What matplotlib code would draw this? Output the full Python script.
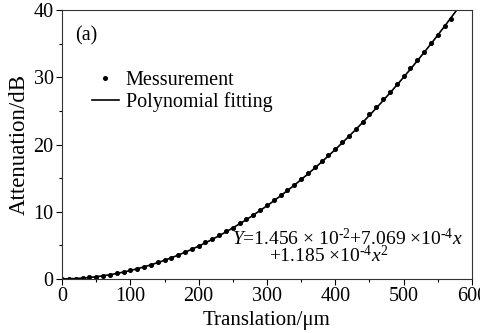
import numpy as np
import matplotlib
matplotlib.use("Agg")
import matplotlib.pyplot as plt
from matplotlib.ticker import MultipleLocator

plt.rcParams['font.family'] = ['Liberation Serif', 'DejaVu Serif']
plt.rcParams['mathtext.fontset'] = 'custom'
plt.rcParams['mathtext.rm'] = 'Liberation Serif'
plt.rcParams['mathtext.it'] = 'Liberation Serif:italic'
plt.rcParams['mathtext.bf'] = 'Liberation Serif:bold'

# Measured data (translation in um, attenuation in dB)
translation = [0, 10, 20, 30, 40, 50, 60, 70, 80, 90, 100, 110, 120, 130, 140, 150,
               160, 170, 180, 190, 200, 210, 220, 230, 240, 250, 260, 270, 280, 290,
               300, 310, 320, 330, 340, 350, 360, 370, 380, 390, 400, 410, 420, 430,
               440, 450, 460, 470, 480, 490, 500, 510, 520, 530, 540, 550, 560, 570]
attenuation = [0.01, 0.03, 0.08, 0.15, 0.24, 0.36, 0.50, 0.66, 0.85, 1.06, 1.30, 1.55,
               1.83, 2.14, 2.47, 2.82, 3.20, 3.60, 4.02, 4.47, 4.94, 5.44, 5.96, 6.50,
               7.07, 7.66, 8.28, 8.91, 9.58, 10.27, 10.97, 11.70, 12.46, 13.23, 14.03,
               14.86, 15.71, 16.59, 17.49, 18.41, 19.36, 20.33, 21.33, 22.36, 23.40,
               24.50, 25.60, 26.72, 27.86, 29.00, 30.18, 31.38, 32.60, 33.80, 35.10,
               36.35, 37.60, 38.70]

# Polynomial fit coefficients as printed on the chart (c0, c1, c2)
fit_coeffs = [1.456e-2, 7.069e-4, 1.185e-4]

fig = plt.figure(figsize=(4.81, 3.33), dpi=100)
ax = fig.add_axes([0.129, 0.162, 0.852, 0.808])

xf = np.linspace(0, 600, 400)
yf = np.polynomial.polynomial.polyval(xf, fit_coeffs)

ax.plot(translation, attenuation, 'o', color='black', markersize=2.6, label='Messurement')
ax.plot(xf, yf, '-', color='black', linewidth=1.2, label='Polynomial fitting')

ax.set_xlim(0, 600)
ax.set_ylim(0, 40)
ax.xaxis.set_major_locator(MultipleLocator(100))
ax.xaxis.set_minor_locator(MultipleLocator(50))
ax.yaxis.set_major_locator(MultipleLocator(10))
ax.yaxis.set_minor_locator(MultipleLocator(5))
ax.tick_params(which='major', direction='out', length=4, width=0.8, labelsize=14.5, pad=2)
ax.tick_params(which='minor', direction='out', length=2.5, width=0.8)
for s in ax.spines.values():
    s.set_linewidth(0.8)
    s.set_color('#333333')

ax.set_xlabel('Translation/μm', fontsize=15, labelpad=3)
ax.set_ylabel('Attenuation/dB', fontsize=16.5, labelpad=3)

ax.text(0.032, 0.905, '(a)', transform=ax.transAxes, fontsize=14.5, va='center', ha='left')

leg = ax.legend(loc='upper left', bbox_to_anchor=(0.074, 0.775), frameon=False,
                fontsize=14.5, handlelength=1.3, handletextpad=0.35,
                labelspacing=0.12, borderaxespad=0, borderpad=0)

ax.text(0.978, 0.128, r'$Y$=1.456 × 10$^{\text{-}2}$+7.069 ×10$^{\text{-}4}x$',
        transform=ax.transAxes, fontsize=14, ha='right', va='baseline')
ax.text(0.798, 0.063, r'+1.185 ×10$^{\text{-}4}x^{2}$',
        transform=ax.transAxes, fontsize=14, ha='right', va='baseline')

fig.savefig('out.png', dpi=100)
